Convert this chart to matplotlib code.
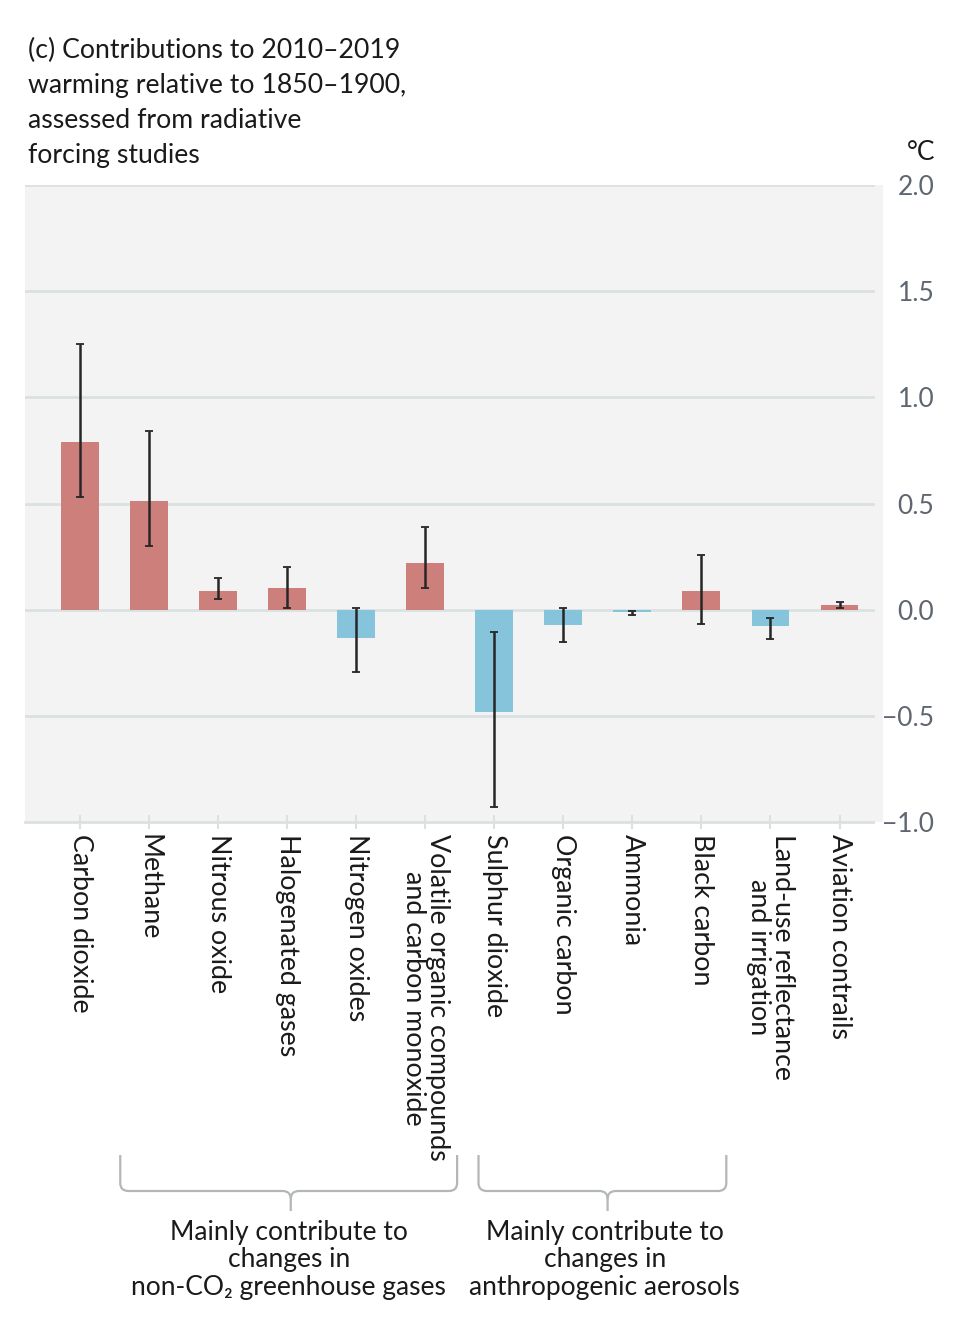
import matplotlib
matplotlib.use("Agg")
import matplotlib.pyplot as plt
import numpy as np
from matplotlib.path import Path
from matplotlib.patches import PathPatch
from matplotlib.transforms import blended_transform_factory

# contributions to 2010-2019 warming (degC), best estimate and very likely range
categories = [
    "Carbon dioxide", "Methane", "Nitrous oxide", "Halogenated gases",
    "Nitrogen oxides", "Volatile organic compounds\nand carbon monoxide",
    "Sulphur dioxide", "Organic carbon", "Ammonia", "Black carbon",
    "Land-use reflectance\nand irrigation", "Aviation contrails",
]
best = [0.79, 0.51, 0.09, 0.10, -0.135, 0.22, -0.48, -0.07, -0.012, 0.09, -0.078, 0.024]
low = [0.53, 0.30, 0.05, 0.01, -0.295, 0.10, -0.93, -0.15, -0.024, -0.067, -0.137, 0.008]
high = [1.25, 0.84, 0.15, 0.20, 0.007, 0.39, -0.105, 0.008, -0.008, 0.256, -0.038, 0.038]
yticks = [-1.0, -0.5, 0.0, 0.5, 1.0, 1.5, 2.0]

title = ("(c) Contributions to 2010\u20132019\nwarming relative to 1850\u20131900,\n"
         "assessed from radiative\nforcing studies")
group_labels = [
    "Mainly contribute to\nchanges in\nnon-CO\u2082 greenhouse gases",
    "Mainly contribute to\nchanges in\nanthropogenic aerosols",
]

RED = "#cd7f7c"
BLUE = "#86c4dc"
GRID = "#dbe0e0"
FONT = ["Lato", "DejaVu Sans"]

W, H = 968, 1329
fig = plt.figure(figsize=(W / 100, H / 100), dpi=100)
ax = fig.add_axes([25 / W, 1 - 822 / H, 858 / W, 637 / H])
ax.set_facecolor("#f3f3f3")

x = np.arange(len(categories))
best = np.array(best)
colors = [RED if v > 0 else BLUE for v in best]

for yt in yticks[1:]:
    ax.axhline(yt, xmin=0, xmax=848 / 858, color=GRID, lw=2, zorder=0.5)
ax.axhline(-1.0, xmin=0, xmax=848 / 858, color=GRID, lw=2, zorder=0.5, clip_on=False)

ax.bar(x, best, width=0.55, color=colors, zorder=2)
yerr = [best - np.array(low), np.array(high) - best]
ax.errorbar(x, best, yerr=yerr, fmt="none", ecolor="#262626", elinewidth=1.8,
            capsize=3, capthick=1.3, zorder=3)

ax.set_xlim(-0.80, 11.63)
ax.set_ylim(-1.0, 2.0)
for s in ax.spines.values():
    s.set_visible(False)

ax.set_xticks(x)
ax.set_xticklabels(categories, rotation=270, ha="center", va="top",
                   family=FONT, fontsize=19.3, color="#1a1a1a", linespacing=0.97)
ax.tick_params(axis="x", direction="inout", length=10, width=1.5, color=GRID, pad=4)

ax.yaxis.tick_right()
ax.set_yticks(yticks)
ax.set_yticklabels([f"{v:.1f}".replace("-", "\u2212") for v in yticks],
                   family=FONT, fontsize=19, color="#5f6670")
ax.tick_params(axis="y", length=0, pad=37)
for lab in ax.get_yticklabels():
    lab.set_horizontalalignment("right")

fig.text(935 / W, 1 - 152 / H, "\u00b0C", ha="right", va="center",
         family=FONT, fontsize=19, color="#1a1a1a")
fig.text(28 / W, 1 - 38 / H, title, ha="left", va="top", family=FONT,
         fontsize=19.2, color="#1a1a1a", linespacing=1.5)

# brackets grouping the forcers
tr = blended_transform_factory(ax.transData, fig.transFigure)
def bracket(x0, x1, xm):
    yt = 1 - 1155 / H
    yb = 1 - 1191 / H
    ym = 1 - 1211 / H
    r = 0.12
    dy = 8 / H
    verts = [(x0, yt), (x0, yb + dy), (x0, yb), (x0 + r, yb),
             (xm - r, yb), (xm, yb), (xm, yb - dy), (xm, ym)]
    codes = [Path.MOVETO, Path.LINETO, Path.CURVE3, Path.CURVE3,
             Path.LINETO, Path.CURVE3, Path.CURVE3, Path.LINETO]
    verts2 = [(x1, yt), (x1, yb + dy), (x1, yb), (x1 - r, yb),
              (xm + r, yb), (xm, yb), (xm, yb - dy)]
    codes2 = [Path.MOVETO, Path.LINETO, Path.CURVE3, Path.CURVE3,
              Path.LINETO, Path.CURVE3, Path.CURVE3]
    for v, c in ((verts, codes), (verts2, codes2)):
        ax.add_patch(PathPatch(Path(v, c), fill=False, edgecolor="#b3b7b7", lw=1.6,
                               transform=tr, clip_on=False))

bracket(0.58, 5.46, 3.05)
bracket(5.77, 9.36, 7.64)

for xc, txt in zip([3.02, 7.60], group_labels):
    ax.text(xc, 1 - 1220 / H, txt, transform=tr, ha="center", va="top",
            family=FONT, fontsize=19, color="#1a1a1a", linespacing=1.12)

fig.savefig("out.png", dpi=100, facecolor="white")
